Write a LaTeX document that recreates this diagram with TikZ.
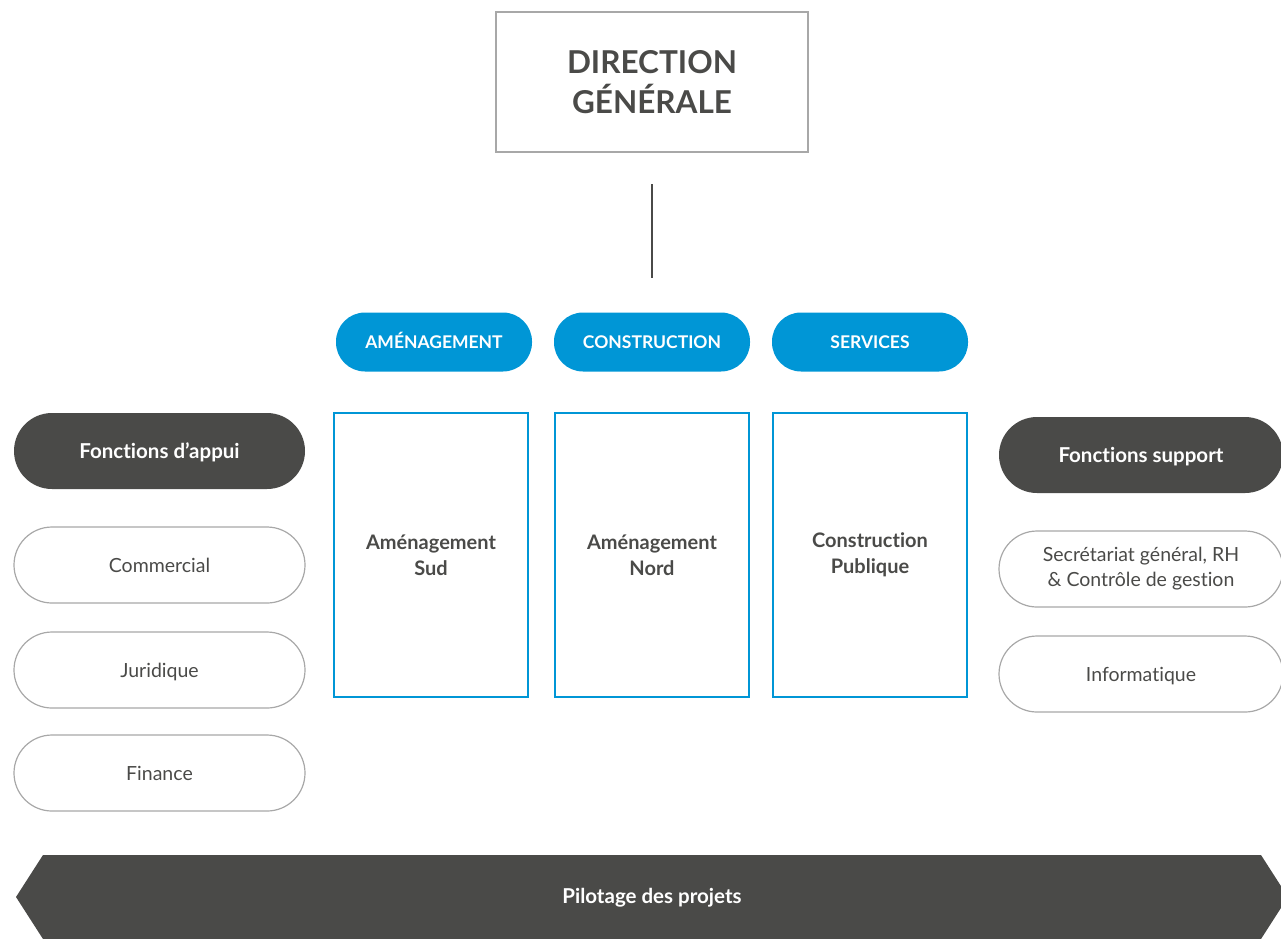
\documentclass[tikz,border=0pt]{standalone}
\usepackage{fontspec}
\setmainfont{Lato}[Ligatures=NoCommon]
\usepackage{tikz}
\definecolor{sombre}{HTML}{4A4A48}
\definecolor{bleu}{HTML}{0096D6}
\definecolor{filet}{HTML}{A8A8A8}

\begin{document}
\begin{tikzpicture}[x=1pt,y=-1pt,
  direction/.style={draw=filet, line width=1.2pt, minimum width=312pt, minimum height=140pt, text=sombre, font=\fontsize{31.5}{40}\selectfont\bfseries, align=center},
  pole/.style={fill=bleu, rounded corners=29pt, minimum width=196pt, minimum height=59pt, text=white, text height=12.5pt, text depth=0pt, font=\fontsize{17.5}{20}\selectfont\bfseries},
  agence/.style={draw=bleu, line width=1.2pt, minimum width=194pt, minimum height=284pt, text=sombre, font=\fontsize{20}{26}\selectfont\bfseries, align=center},
  titre/.style={fill=sombre, rounded corners=38pt, minimum width=291pt, minimum height=76pt, text=white, font=\fontsize{20.5}{24}\selectfont\bfseries},
  fonction/.style={draw=filet, line width=1.2pt, rounded corners=38pt, minimum width=291pt, minimum height=76pt, text=sombre, font=\fontsize{19.5}{25}\selectfont, align=center},
  seul/.style={text height=16pt, text depth=2pt}]
\useasboundingbox (0,0) rectangle (1281,938);

% direction
\node[direction] (dg) at (652,82) {DIRECTION\\GÉNÉRALE};
\coordinate (haut) at (652,184);
\coordinate (bas) at (652,278);
\draw[sombre, line width=1.2pt] (haut) -- (bas);

% poles
\node[pole] (amenagement) at (434,342) {AMÉNAGEMENT};
\node[pole] (construction) at (652,342) {CONSTRUCTION};
\node[pole] (services) at (870,342) {SERVICES};

\node[agence] (sud) at (431,555) {Aménagement\\Sud};
\node[agence] (nord) at (652,555) {Aménagement\\Nord};
\node[agence] (publique) at (870,555) {Construction\\Publique};

% fonctions
\node[titre, seul] (appui) at (159.5,451) {Fonctions d’appui};
\node[fonction, seul] (commercial) at (159.5,565) {Commercial};
\node[fonction, seul] (juridique) at (159.5,670) {Juridique};
\node[fonction, seul] (finance) at (159.5,773) {Finance};

\node[titre, seul, minimum width=284pt] (support) at (1141,455) {Fonctions support};
\node[fonction, minimum width=284pt] (secretariat) at (1141,569) {Secrétariat général, RH\\\& Contrôle de gestion};
\node[fonction, seul, minimum width=284pt] (informatique) at (1141,674) {Informatique};

% pilotage
\fill[sombre] (16,897) -- (43,855) -- (1261,855) -- (1288,897) -- (1261,939) -- (43,939) -- cycle;
\node[text=white, seul, font=\fontsize{20.5}{24}\selectfont\bfseries] (pilotage) at (652,896) {Pilotage des projets};
\end{tikzpicture}
\end{document}
